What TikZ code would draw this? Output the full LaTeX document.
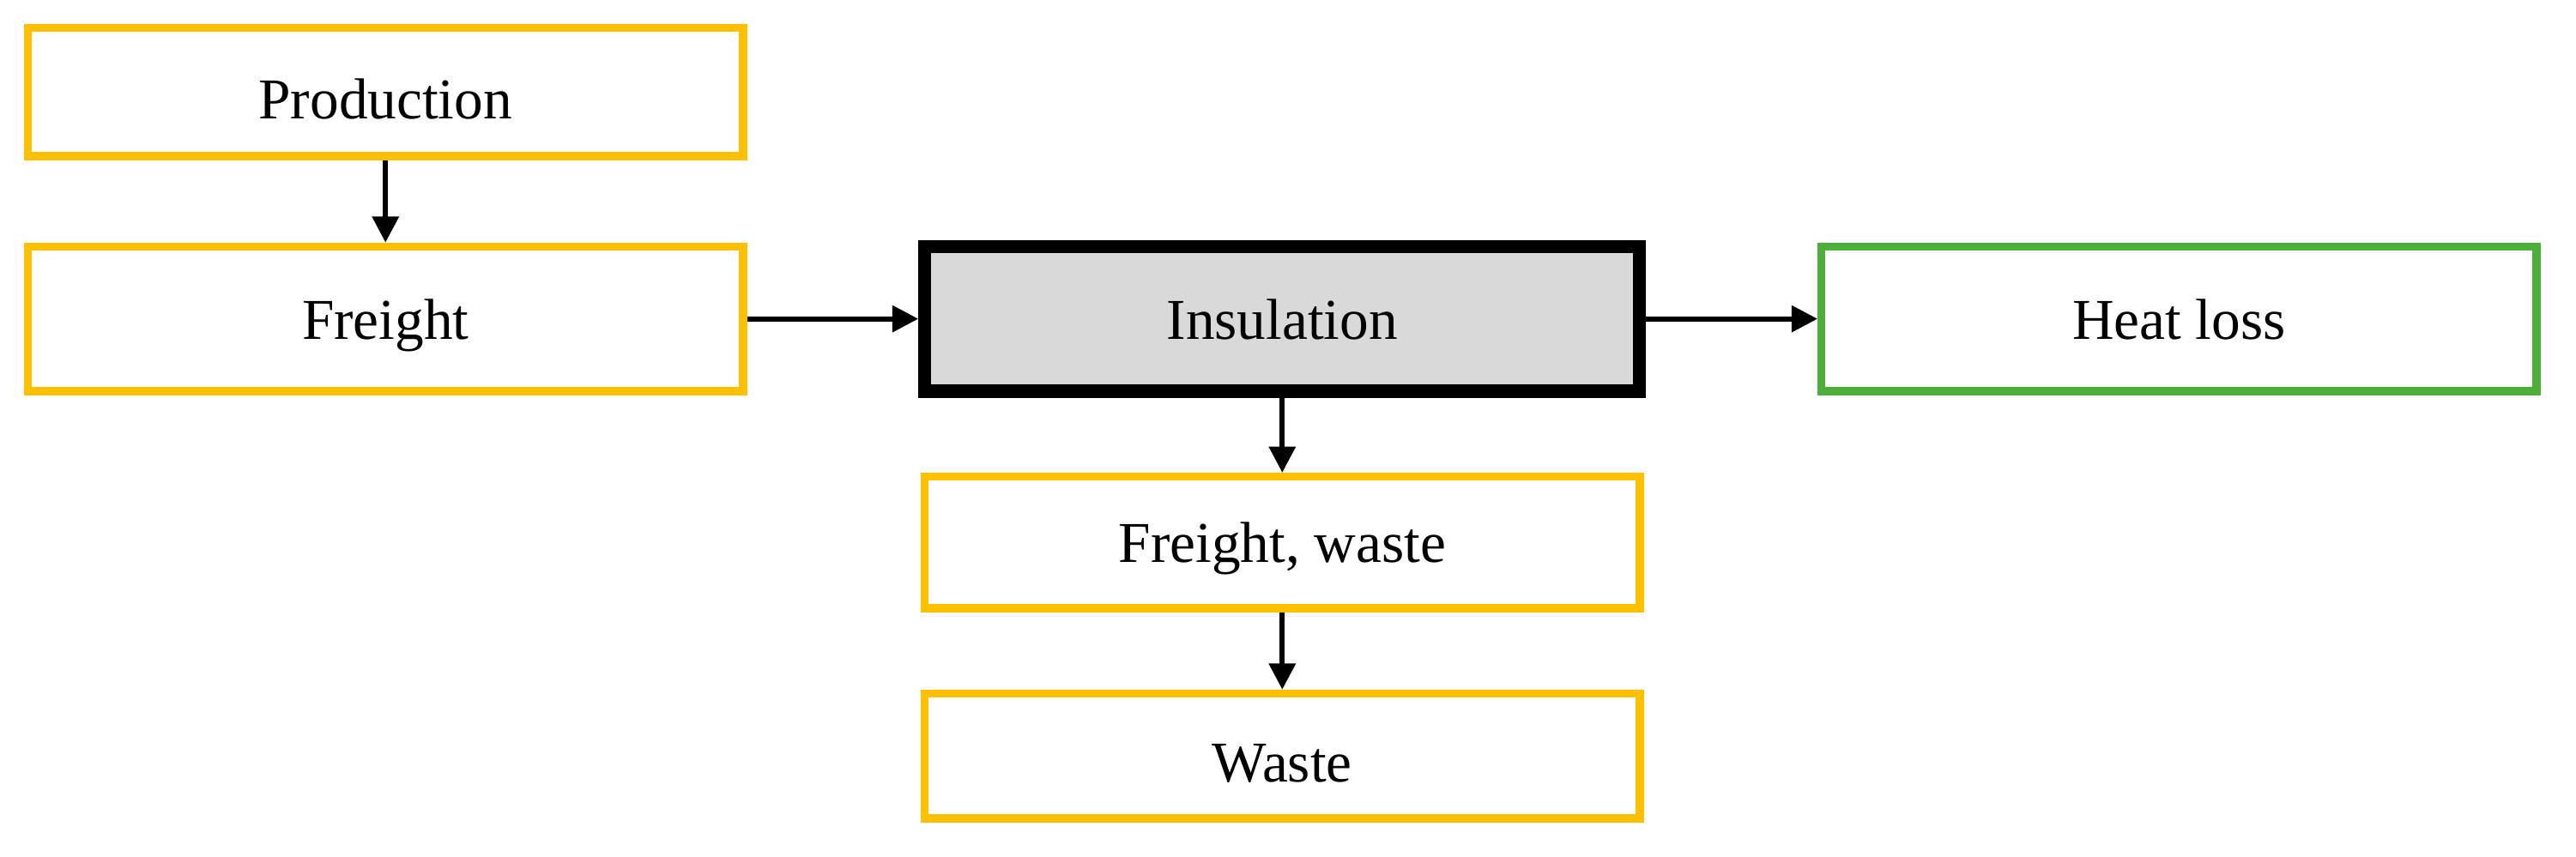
\documentclass[tikz,border=0pt]{standalone}
\usepackage{fontspec}
\setmainfont{Liberation Serif}
\usetikzlibrary{arrows.meta}
\begin{document}
\begin{tikzpicture}[x=0.02cm,y=-0.02cm,
  box/.style={draw=orange!70!yellow,line width=2.8pt,fill=white,minimum width=8.7cm,minimum height=1.66cm,font=\fontsize{20}{24}\selectfont,text depth=0pt,inner sep=0pt},
  arr/.style={line width=1.7pt,-{Triangle[length=9pt,width=9pt]}}]
\definecolor{boxor}{RGB}{255,192,0}
\definecolor{boxgr}{RGB}{76,175,57}
\useasboundingbox (0,0) rectangle (1567,521);
\tikzset{box/.append style={draw=boxor}}
\node[box,minimum height=1.56cm] (prod) at (234.5,56) {\raisebox{-0.5ex}{Production}};
\node[box,minimum height=1.76cm] (fr) at (234.5,194) {Freight};
\node[box,minimum height=1.76cm,draw=black,line width=4.5pt,fill=black!15] (ins) at (780,194) {Insulation};
\node[box,minimum height=1.76cm,draw=boxgr] (heat) at (1325.5,194) {Heat loss};
\node[box,minimum height=1.6cm] (fw) at (780,330) {Freight, waste};
\node[box,minimum height=1.52cm] (w) at (780,460) {\raisebox{-0.5ex}{Waste}};
\draw[arr] (prod) -- (fr);
\draw[arr] (fr) -- (ins);
\draw[arr] (ins) -- (heat);
\draw[arr] (ins) -- (fw);
\draw[arr] (fw) -- (w);
\end{tikzpicture}
\end{document}
